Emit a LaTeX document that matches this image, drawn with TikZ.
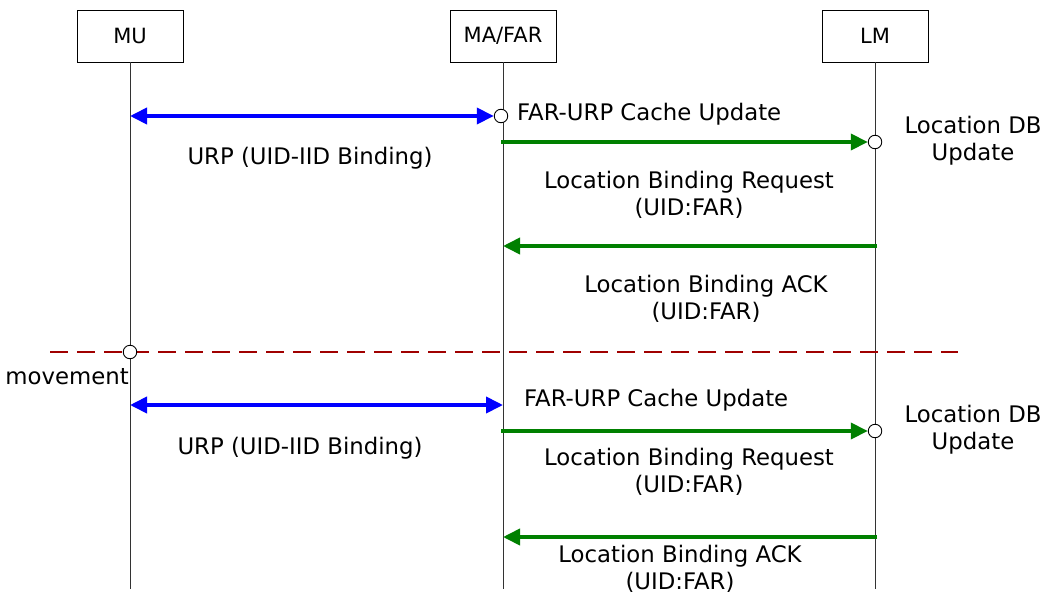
\documentclass[tikz,border=0pt]{standalone}
\usepackage{fontspec}
\setmainfont{DejaVu Sans}
\usetikzlibrary{arrows.meta}
\definecolor{msgblue}{RGB}{0,0,255}
\definecolor{msggreen}{RGB}{0,128,0}
\definecolor{moveline}{RGB}{160,0,0}
\begin{document}
\begin{tikzpicture}[x=1pt,y=-1pt,
  actor/.style={draw=black,line width=0.8pt,minimum width=106pt,minimum height=52pt,
    inner sep=0pt,font=\fontsize{21}{25}\selectfont},
  lifeline/.style={draw=black!80,line width=0.9pt},
  event/.style={circle,draw=black,fill=white,line width=0.9pt,minimum size=13.5pt,inner sep=0pt},
  msglabel/.style={align=center,inner sep=0pt,font=\fontsize{22.8}{27}\selectfont},
  bluemsg/.style={draw=msgblue,line width=3.8pt,{Triangle[length=17pt,width=16pt]}-{Triangle[length=17pt,width=16pt]}},
  greenmsg/.style={draw=msggreen,line width=3.8pt,-{Triangle[length=17pt,width=16pt]}},
  moveline/.style={draw=moveline,line width=2.4pt,dash pattern=on 18pt off 9pt}
]
\useasboundingbox (0,0) rectangle (1049,597);

% participants
\node[actor] (mu)  at (130,36) {MU};
\node[actor] (far) at (503,36) {MA/FAR};
\node[actor] (lm)  at (875,36) {LM};

% lifeline ends
\coordinate (muend)  at (130,589);
\coordinate (farend) at (503,589);
\coordinate (lmend)  at (875,589);
\draw[lifeline] (mu.south)  -- (muend);
\draw[lifeline] (far.south) -- (farend);
\draw[lifeline] (lm.south)  -- (lmend);

% points on the lifelines
\coordinate (muA)   at (130,116);
\coordinate (farB)  at (501,142);
\coordinate (lmC)   at (877,246);
\coordinate (farC)  at (503,246);
\coordinate (muD)   at (130,405);
\coordinate (farD)  at (503,405);
\coordinate (farE)  at (501,431);
\coordinate (lmF)   at (877,537);
\coordinate (farF)  at (503,537);
\coordinate (moveL) at (50,352);
\coordinate (moveR) at (958,352);

% movement separator
\draw[moveline] (moveL) -- (moveR);

% event markers
\node[event] (cacheA) at (501,116) {};
\node[event] (dbA)    at (875,142) {};
\node[event] (move)   at (130,352) {};
\node[event] (dbB)    at (875,431) {};

% first binding round
\draw[bluemsg]  (muA) -- (cacheA);
\draw[greenmsg] (farB) -- (dbA);
\draw[greenmsg] (lmC) -- (farC);

% second binding round
\draw[bluemsg]  (muD) -- (farD);
\draw[greenmsg] (farE) -- (dbB);
\draw[greenmsg] (lmF) -- (farF);

% labels
\node[msglabel,anchor=west] (lcA) at (517,114) {FAR-URP Cache Update};
\node[msglabel] (lurpA) at (310,158) {URP (UID-IID Binding)};
\node[msglabel] (ldbA)  at (973,140.5) {Location DB\\Update};
\node[msglabel] (lreqA) at (689,194.5) {Location Binding Request\\(UID:FAR)};
\node[msglabel] (lackA) at (706,298.5) {Location Binding ACK\\(UID:FAR)};
\node[msglabel,anchor=east] (lmove) at (129,377) {movement};
\node[msglabel,anchor=west] (lcB) at (524,400) {FAR-URP Cache Update};
\node[msglabel] (lurpB) at (300,448) {URP (UID-IID Binding)};
\node[msglabel] (ldbB)  at (973,429.5) {Location DB\\Update};
\node[msglabel] (lreqB) at (689,471.5) {Location Binding Request\\(UID:FAR)};
\node[msglabel] (lackB) at (680,569) {Location Binding ACK\\(UID:FAR)};
\end{tikzpicture}
\end{document}
